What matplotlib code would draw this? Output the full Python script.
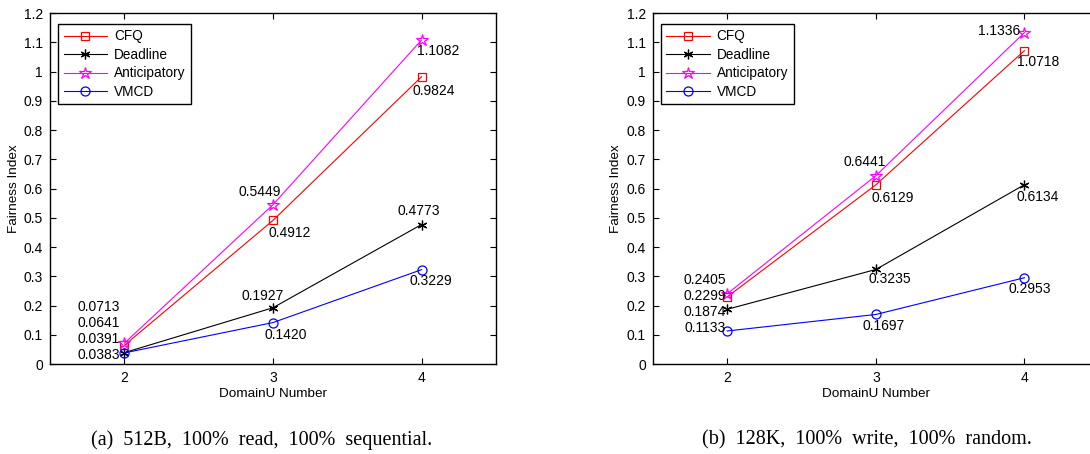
import matplotlib
matplotlib.use("Agg")
import matplotlib.pyplot as plt
from matplotlib.ticker import FuncFormatter

plt.rcParams["font.family"] = ["Liberation Sans", "DejaVu Sans"]

# data
domains = [2, 3, 4]
series_names = ["CFQ", "Deadline", "Anticipatory", "VMCD"]

seq_cfq = [0.0641, 0.4912, 0.9824]
seq_deadline = [0.0391, 0.1927, 0.4773]
seq_anticipatory = [0.0713, 0.5449, 1.1082]
seq_vmcd = [0.0383, 0.1420, 0.3229]

rnd_cfq = [0.2299, 0.6129, 1.0718]
rnd_deadline = [0.1874, 0.3235, 0.6134]
rnd_anticipatory = [0.2405, 0.6441, 1.1336]
rnd_vmcd = [0.1133, 0.1697, 0.2953]

captions = ["(a)  512B,  100%  read,  100%  sequential.",
            "(b)  128K,  100%  write,  100%  random."]

# styles
colors = ["#ff0000", "#000000", "#ff00ff", "#0000ff"]
markers = ["s", (6, 2, 0), "*", "o"]
msizes = [6, 7, 9, 6.5]

# label placement: (x, y, ha) per series per point
seq_pos = [
    [(1.97, 0.140, "right"), (2.97, 0.447, "left"), (3.94, 0.933, "left")],
    [(1.97, 0.085, "right"), (2.79, 0.232, "left"), (3.84, 0.523, "left")],
    [(1.97, 0.196, "right"), (2.77, 0.589, "left"), (3.97, 1.070, "left")],
    [(1.97, 0.031, "right"), (2.94, 0.099, "left"), (3.92, 0.284, "left")],
]
rnd_pos = [
    [(1.99, 0.232, "right"), (2.97, 0.567, "left"), (3.95, 1.034, "left")],
    [(1.99, 0.177, "right"), (2.95, 0.290, "left"), (3.95, 0.570, "left")],
    [(1.99, 0.287, "right"), (2.78, 0.690, "left"), (3.97, 1.140, "right")],
    [(1.99, 0.122, "right"), (2.91, 0.130, "left"), (3.89, 0.256, "left")],
]

fig = plt.figure(figsize=(10.9, 4.54), dpi=100)
ax_w, ax_h = 0.409, 0.773
axes = [fig.add_axes([0.0459, 0.198, ax_w, ax_h]),
        fig.add_axes([0.599, 0.198, ax_w, ax_h])]

panels = [
    ([seq_cfq, seq_deadline, seq_anticipatory, seq_vmcd], seq_pos),
    ([rnd_cfq, rnd_deadline, rnd_anticipatory, rnd_vmcd], rnd_pos),
]

for ax, (data, pos) in zip(axes, panels):
    for name, vals, c, m, ms, p in zip(series_names, data, colors, markers, msizes, pos):
        ax.plot(domains, vals, color=c, marker=m, markersize=ms,
                markerfacecolor="none", markeredgecolor=c,
                markeredgewidth=0.9, linewidth=0.8, label=name)
        for v, (tx, ty, ha) in zip(vals, p):
            ax.text(tx, ty, f"{v:.4f}", ha=ha, va="center", fontsize=10)

    ax.set_xlim(1.5, 4.5)
    ax.set_ylim(0, 1.2)
    ax.set_xticks(domains)
    ax.set_yticks([i / 10 for i in range(13)])
    ax.yaxis.set_major_formatter(FuncFormatter(lambda v, _: f"{v:g}"))
    ax.tick_params(direction="in", top=True, right=True, length=4,
                   width=0.8, labelsize=10, pad=5)
    for s in ax.spines.values():
        s.set_linewidth(1.0)
    ax.set_xlabel("DomainU Number", fontsize=9.7, labelpad=2)
    ax.set_ylabel("Fairness Index", fontsize=9.7, labelpad=3)

    leg = ax.legend(loc="upper left", bbox_to_anchor=(0.018, 0.969),
                    fontsize=9.8, handlelength=3.2, borderaxespad=0,
                    fancybox=False, framealpha=1, edgecolor="black",
                    labelspacing=0.33, borderpad=0.4, handletextpad=0.5)
    leg.get_frame().set_linewidth(1.0)

fig.text(0.24, 0.031, captions[0], ha="center", va="center",
         fontsize=14.5, family="Liberation Serif")
fig.text(0.795, 0.031, captions[1], ha="center", va="center",
         fontsize=14.5, family="Liberation Serif")

fig.savefig("out.png", dpi=100)
